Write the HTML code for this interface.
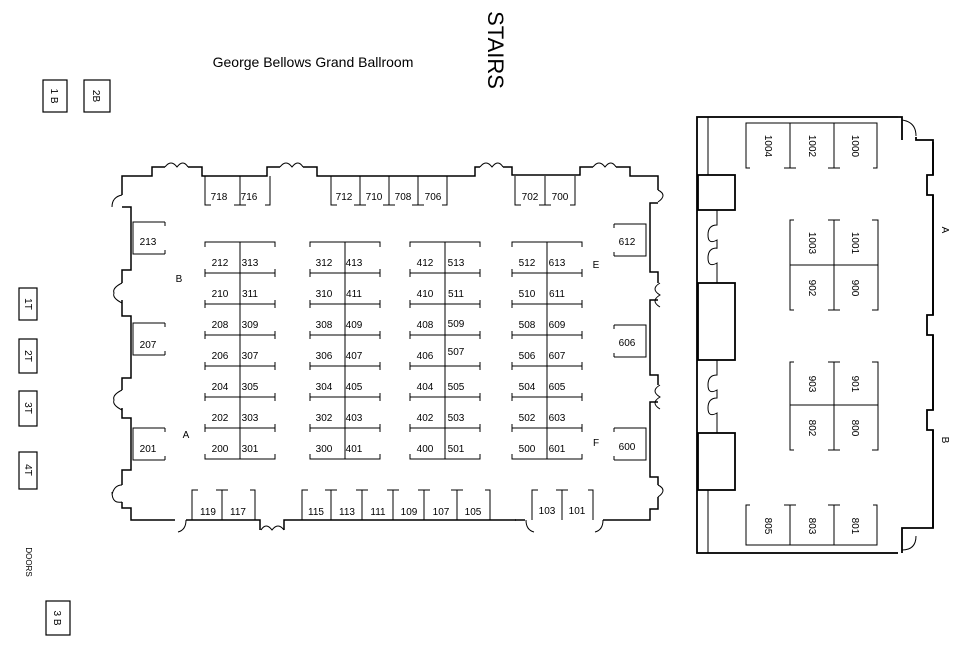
<!DOCTYPE html>
<html><head><meta charset="utf-8"><style>
html,body{margin:0;padding:0;background:#fff;width:958px;height:656px;overflow:hidden}
svg{display:block}
text{font-family:"Liberation Sans",sans-serif;font-size:10px;fill:#000}
</style></head><body>
<svg width="958" height="656" viewBox="0 0 958 656" xmlns="http://www.w3.org/2000/svg">
<g fill="none" stroke="#000" stroke-width="1.5">
<!-- main room outline -->
<polyline points="122,195 122,176 152,176 152,167 165,167"/>
<path d="M165,167 q6,-8 12,0 q6,-8 11,0" stroke-width="1"/>
<polyline points="188,167 202,167 202,176 267,176 267,167 280,167"/>
<path d="M280,167 q6,-8 12,0 q6,-8 11,0" stroke-width="1"/>
<polyline points="303,167 317,167 317,176 475,176 475,167 480,167"/>
<path d="M480,167 q6,-8 12,0 q6,-8 11,0" stroke-width="1"/>
<polyline points="503,167 512,167 512,175 580,175 580,167 593,167"/>
<path d="M593,167 q6,-8 12,0 q6,-8 11,0" stroke-width="1"/>
<polyline points="616,167 630,167 630,176 658,176 658,190"/>
<path d="M658,190 q10,5 0,12" stroke-width="1"/>
<polyline points="658,203 650,203 650,272 658,272 658,283"/>
<path d="M660,283 q-10,6 0,12 q-10,6 0,12" stroke-width="1"/>
<polyline points="658,300 650,300 650,375 658,375 658,385"/>
<path d="M660,385 q-10,6 0,12 q-10,6 0,12" stroke-width="1"/>
<polyline points="658,402 650,402 650,477 658,477 658,485"/>
<path d="M658,485 q10,5 0,12" stroke-width="1"/>
<polyline points="658,497 658,509 650,509 650,520 603,520"/>
<path d="M603,520 q0,10 -8,12" stroke-width="1"/>
<polyline points="525,520 525,520 515,520"/>
<path d="M526,520 q0,10 8,12" stroke-width="1"/>
<polyline points="516,520 284,520 284,530"/>
<path d="M284,530 q-6,-8 -12,0 q-6,-8 -11,0" stroke-width="1"/>
<polyline points="260,530 260,520 186,520"/>
<path d="M186,520 q0,10 -8,12" stroke-width="1"/>
<polyline points="175,520 131,520 131,508 122,508 122,502"/>
<path d="M122,502 q-10,2 -10,-10 M122,485 q-8,0 -10,10" stroke-width="1"/>
<polyline points="122,485 122,470 131,470 131,418 122,418 122,408"/>
<path d="M122,390 q-10,5 -8,10 q-2,5 8,10" stroke-width="1"/>
<polyline points="122,390 122,378 131,378 131,316 122,316 122,300"/>
<path d="M122,283 q-10,5 -8,10 q-2,5 8,10" stroke-width="1"/>
<polyline points="122,283 122,270 131,270 131,207 122,207"/>
<path d="M122,195 q-10,2 -10,12" stroke-width="1"/>
<!-- right room -->
<rect x="697" y="117" width="236" height="436" stroke-width="1.8"/>
</g>
<g fill="#fff" stroke="#000" stroke-width="1.8">
<rect x="898" y="112" width="40" height="30" stroke="none"/>
<rect x="898" y="528" width="40" height="30" stroke="none"/>
<rect x="930" y="175" width="8" height="20" stroke="none"/>
<rect x="930" y="315" width="8" height="20" stroke="none"/>
<rect x="930" y="410" width="8" height="20" stroke="none"/>
</g>
<g fill="none" stroke="#000" stroke-width="1.8">
<polyline points="898,117 902,117 902,140"/>
<path d="M902,120 q14,2 14,16" stroke-width="1"/>
<polyline points="916,137 916,140 933,140 933,175 927,175 927,195 933,195 933,315 927,315 927,335 933,335 933,410 927,410 927,430 933,430 933,528 902,528 902,553"/>
<path d="M902,550 q14,0 14,-14" stroke-width="1"/>
<line x1="708" y1="117" x2="708" y2="175" stroke-width="1"/>
<line x1="708" y1="490" x2="708" y2="553" stroke-width="1"/>
<rect x="698" y="175" width="37" height="35"/>
<rect x="698" y="283" width="37" height="77"/>
<rect x="698" y="433" width="37" height="57"/>
</g>
<g fill="none" stroke="#000" stroke-width="1">
<path d="M717,210 v15 q-9,0 -9,10 q0,10 9,5 q0,10 0,8 M717,248 q-9,0 -9,10 q0,10 9,5 v20"/>
<path d="M717,360 v15 q-9,0 -9,10 q0,10 9,5 v8 q-9,0 -9,10 q0,10 9,5 v20"/>
</g>
<!-- booths -->
<g fill="none" stroke="#000" stroke-width="1">
<!-- top row -->
<path d="M205,176 v29 h6 M240,176 v29 M234,205 h12 M270,176 v29 h-5"/>
<path d="M331,176 v29 h6 M360,176 v29 M354,205h12 M389,176 v29 M383,205h12 M418,176 v29 M412,205h12 M447,176 v29 h-5"/>
<path d="M515,176 v29 h6 M545,176 v29 M539,205h12 M575,176 v29 h-5"/>
<!-- bottom row -->
<path d="M192,520 v-30 h6 M222,520 v-30 M216,490h12 M255,520 v-30 h-5"/>
<path d="M302,520 v-30 h6 M331,520 v-30 M325,490h12 M362,520 v-30 M356,490h12 M393,520 v-30 M387,490h12 M424,520 v-30 M418,490h12 M457,520 v-30 M451,490h12 M490,520 v-30 h-5"/>
<path d="M532,520 v-30 h6 M562,520 v-30 M556,490h12 M593,520 v-30 h-5"/>
<!-- side booths -->
<path d="M165,222 h-32 v32 h32 M165,222 v4 M165,254 v-4"/>
<path d="M165,323 h-32 v32 h32 M165,323 v4 M165,355 v-4"/>
<path d="M165,428 h-32 v32 h32 M165,428 v4 M165,460 v-4"/>
<path d="M614,224 h32 v32 h-32 M614,224 v4 M614,256 v-4"/>
<path d="M614,325 h32 v32 h-32 M614,325 v4 M614,357 v-4"/>
<path d="M614,428 h32 v32 h-32 M614,428 v4 M614,460 v-4"/>
</g>
<g id="blk" fill="none" stroke="#000" stroke-width="1">
<path d="M205,247 v-5 h70 v5 M240,242 v217 M205,454 v5 h70 v-5"/>
<path d="M205,273 h70 M205,304 h70 M205,335 h70 M205,366 h70 M205,397 h70 M205,428 h70"/>
<path d="M205,269 v8 M275,269 v8 M205,300 v8 M275,300 v8 M205,331 v8 M275,331 v8 M205,362 v8 M275,362 v8 M205,393 v8 M275,393 v8 M205,424 v8 M275,424 v8"/>
</g>
<use href="#blk" x="105"/>
<use href="#blk" x="205"/>
<use href="#blk" x="307"/>
<!-- right room booths -->
<g fill="none" stroke="#000" stroke-width="1">
<path d="M750,123 h-4 v45 h4 M790,123 v45 M784,168h12 M834,123 v45 M828,168h12 M873,123 h4 v45 h-4 M746,123 h131"/>
<path d="M794,220 h-4 v90 h4 M834,220 v90 M828,220h12 M828,310h12 M872,220 h6 v90 h-6 M790,265 h88"/>
<path d="M794,362 h-4 v88 h4 M834,362 v88 M828,362h12 M828,450h12 M872,362 h6 v88 h-6 M790,405 h88"/>
<path d="M750,505 h-4 v40 h131 v-40 h-4 M790,505 v40 M784,505h12 M834,505 v40 M828,505h12"/>
</g>
<!-- labels -->
<g text-anchor="middle">
<text x="219" y="200">718</text><text x="249" y="200">716</text>
<text x="344" y="200">712</text><text x="374" y="200">710</text><text x="403" y="200">708</text><text x="433" y="200">706</text>
<text x="530" y="200">702</text><text x="560" y="200">700</text>
<text x="208" y="515">119</text><text x="238" y="515">117</text>
<text x="316" y="515">115</text><text x="347" y="515">113</text><text x="378" y="515">111</text><text x="409" y="515">109</text><text x="441" y="515">107</text><text x="473" y="515">105</text>
<text x="547" y="514">103</text><text x="577" y="514">101</text>
<text x="148" y="245">213</text><text x="148" y="348">207</text><text x="148" y="452">201</text>
<text x="627" y="245">612</text><text x="627" y="346">606</text><text x="627" y="450">600</text>
<text x="179" y="282">B</text><text x="186" y="438">A</text><text x="596" y="268">E</text><text x="596" y="446">F</text>
</g>
<g text-anchor="middle">
<text x="220" y="266">212</text><text x="250" y="266">313</text><text x="324" y="266">312</text><text x="354" y="266">413</text><text x="425" y="266">412</text><text x="456" y="266">513</text><text x="527" y="266">512</text><text x="557" y="266">613</text>
<text x="220" y="297">210</text><text x="250" y="297">311</text><text x="324" y="297">310</text><text x="354" y="297">411</text><text x="425" y="297">410</text><text x="456" y="297">511</text><text x="527" y="297">510</text><text x="557" y="297">611</text>
<text x="220" y="328">208</text><text x="250" y="328">309</text><text x="324" y="328">308</text><text x="354" y="328">409</text><text x="425" y="328">408</text><text x="456" y="327">509</text><text x="527" y="328">508</text><text x="557" y="328">609</text>
<text x="220" y="359">206</text><text x="250" y="359">307</text><text x="324" y="359">306</text><text x="354" y="359">407</text><text x="425" y="359">406</text><text x="456" y="355">507</text><text x="527" y="359">506</text><text x="557" y="359">607</text>
<text x="220" y="390">204</text><text x="250" y="390">305</text><text x="324" y="390">304</text><text x="354" y="390">405</text><text x="425" y="390">404</text><text x="456" y="390">505</text><text x="527" y="390">504</text><text x="557" y="390">605</text>
<text x="220" y="421">202</text><text x="250" y="421">303</text><text x="324" y="421">302</text><text x="354" y="421">403</text><text x="425" y="421">402</text><text x="456" y="421">503</text><text x="527" y="421">502</text><text x="557" y="421">603</text>
<text x="220" y="452">200</text><text x="250" y="452">301</text><text x="324" y="452">300</text><text x="354" y="452">401</text><text x="425" y="452">400</text><text x="456" y="452">501</text><text x="527" y="452">500</text><text x="557" y="452">601</text>
</g>
<g text-anchor="middle" font-size="10">
<text transform="translate(765,146) rotate(90)">1004</text>
<text transform="translate(809,146) rotate(90)">1002</text>
<text transform="translate(852,146) rotate(90)">1000</text>
<text transform="translate(809,243) rotate(90)">1003</text>
<text transform="translate(852,243) rotate(90)">1001</text>
<text transform="translate(809,288) rotate(90)">902</text>
<text transform="translate(852,288) rotate(90)">900</text>
<text transform="translate(809,384) rotate(90)">903</text>
<text transform="translate(852,384) rotate(90)">901</text>
<text transform="translate(809,428) rotate(90)">802</text>
<text transform="translate(852,428) rotate(90)">800</text>
<text transform="translate(765,526) rotate(90)">805</text>
<text transform="translate(809,526) rotate(90)">803</text>
<text transform="translate(852,526) rotate(90)">801</text>
<text transform="translate(942,230) rotate(90)" font-size="7">A</text>
<text transform="translate(942,440) rotate(90)" font-size="7">B</text>
</g>
<!-- left side -->
<g fill="none" stroke="#000" stroke-width="1.2">
<rect x="43" y="80" width="24" height="32"/><rect x="84" y="80" width="26" height="32"/>
<rect x="19" y="288" width="18" height="32"/><rect x="19" y="339" width="18" height="34"/>
<rect x="19" y="391" width="18" height="35"/><rect x="19" y="452" width="18" height="37"/>
<rect x="46" y="601" width="24" height="34"/>
</g>
<g text-anchor="middle" font-size="10">
<text transform="translate(51,96) rotate(90)">1 B</text>
<text transform="translate(93,96) rotate(90)">2B</text>
<text transform="translate(25,304) rotate(90)">1T</text>
<text transform="translate(25,356) rotate(90)">2T</text>
<text transform="translate(25,408) rotate(90)">3T</text>
<text transform="translate(25,470) rotate(90)">4T</text>
<text transform="translate(26,562) rotate(90)" style="font-size:8px">DOORS</text>
<text transform="translate(54,618) rotate(90)">3 B</text>
</g>
<text x="313" y="67" text-anchor="middle" style="font-size:14px">George Bellows Grand Ballroom</text>
<text transform="translate(488,50) rotate(90)" text-anchor="middle" style="font-size:22px">STAIRS</text>
</svg>
</body></html>
